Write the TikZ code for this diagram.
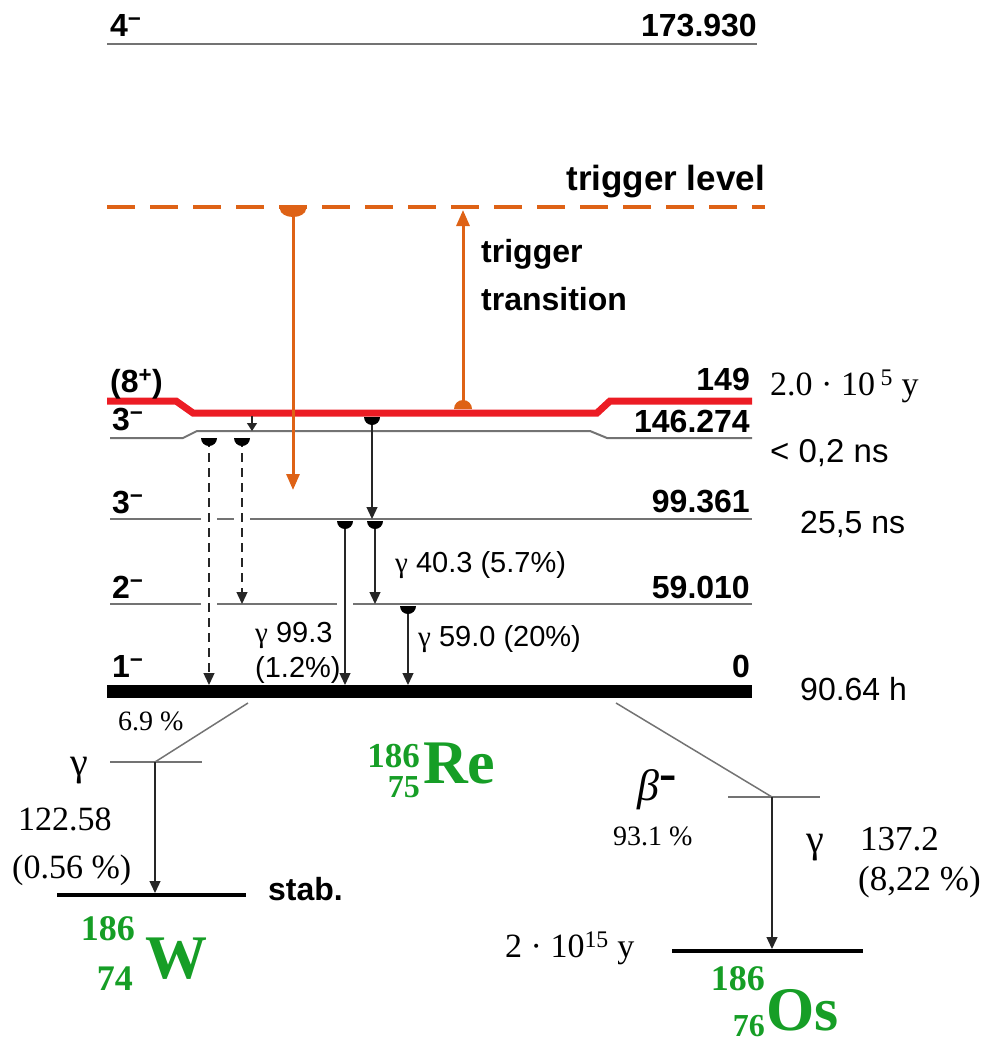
\documentclass[tikz,border=0pt]{standalone}
\usepackage{fontspec}
\setmainfont{Liberation Sans}
\newfontfamily\tms{Liberation Serif}
\usetikzlibrary{arrows.meta,positioning}
\definecolor{trigorange}{RGB}{222,98,22}
\definecolor{isored}{RGB}{236,28,36}
\definecolor{isogreen}{RGB}{22,158,38}
\definecolor{lvlgray}{RGB}{115,115,115}
\tikzset{
  lvl/.style={draw=lvlgray, line width=2pt},
  gnd/.style={draw=black, line width=13pt},
  gapline/.style={draw=white, line width=4pt},
  trans/.style={draw=black!85, line width=1.3pt, -{Triangle[length=12pt,width=11pt]}},
  dtrans/.style={trans, dash pattern=on 9pt off 6pt},
  otrans/.style={draw=trigorange, line width=3pt, -{Triangle[length=16pt,width=13pt]}},
  lbl/.style={inner sep=0pt, font=\fontsize{32}{32}\selectfont\bfseries},
  rlbl/.style={inner sep=0pt, font=\fontsize{32}{32}\selectfont},
  tlbl/.style={inner sep=0pt, font=\fontsize{29}{29}\selectfont},
  srf/.style={inner sep=0pt, font=\tms\fontsize{34}{34}\selectfont},
  iso/.style={inner sep=0pt, text=isogreen, font=\tms\fontsize{36}{36}\selectfont\bfseries},
  elem/.style={inner sep=0pt, text=isogreen, font=\tms\fontsize{62}{62}\selectfont\bfseries},
  hdown/.pic={\fill (-8pt,0pt) arc[start angle=180,end angle=360,radius=8pt] -- cycle;},
  hdownbig/.pic={\fill (-13pt,0pt) arc[start angle=180,end angle=360,x radius=13pt,y radius=8pt] -- cycle;},
  hup/.pic={\fill (-9pt,0pt) arc[start angle=180,end angle=0,radius=9pt] -- cycle;},
}
\begin{document}
\begin{tikzpicture}[x=1pt,y=-1pt]
\useasboundingbox (0,0) rectangle (982,1044);
% levels of 186Re
\coordinate (l4a) at (107,44);   \coordinate (l4b) at (757,44);
\coordinate (tla) at (107,207);  \coordinate (tlb) at (765,207);
\coordinate (rla) at (107,401);  \coordinate (rlb) at (752,401);
\coordinate (l146a) at (110,438); \coordinate (l146b) at (752,438);
\coordinate (l99a) at (110,519);  \coordinate (l99b) at (752,519);
\coordinate (l59a) at (110,604);  \coordinate (l59b) at (752,604);
\coordinate (l0a) at (107,691);   \coordinate (l0b) at (752,691);

\draw[lvl] (l4a) -- (l4b);
\draw[trigorange, line width=3.5pt, dash pattern=on 28pt off 15pt] (tla) -- (tlb);
\draw[isored, line width=7pt] (rla) -- (176,401) -- (193,413) -- (597,413) -- (610,401) -- (rlb);
\draw[lvl] (l146a) -- (183,438) -- (197,431) -- (590,431) -- (607,438) -- (l146b);
\draw[lvl] (l99a) -- (l99b);
\draw[lvl] (l59a) -- (l59b);
\draw[gnd] (l0a) -- (l0b);

\node[lbl, anchor=base west] (j4) at (110,36) {4\textsuperscript{−}};
\node[lbl, anchor=base east] (e4) at (757,36) {173.930};
\node[lbl, font=\fontsize{35}{35}\selectfont\bfseries, anchor=base east] (trl) at (765,190) {trigger level};
\node[lbl, anchor=base west] (j8) at (110,392) {(8\textsuperscript{+})};
\node[lbl, anchor=base east] (e149) at (750,390) {149};
\node[lbl, anchor=base west] (j146) at (112,430) {3\textsuperscript{−}};
\node[lbl, anchor=base east] (e146) at (750,432) {146.274};
\node[lbl, anchor=base west] (j99) at (112,513) {3\textsuperscript{−}};
\node[lbl, anchor=base east] (e99) at (750,512) {99.361};
\node[lbl, anchor=base west] (j59) at (112,598) {2\textsuperscript{−}};
\node[lbl, anchor=base east] (e59) at (750,598) {59.010};
\node[lbl, anchor=base west] (j0) at (112,677) {1\textsuperscript{−}};
\node[lbl, anchor=base east] (e0) at (750,677) {0};

\node[srf, anchor=base west] (t149) at (770,395) {2.0 · 10\,\textsuperscript{5} y};
\node[rlbl, font=\fontsize{33}{33}\selectfont, anchor=base west] (t146) at (770,462) {< 0,2 ns};
\node[rlbl, anchor=base west] (t99) at (800,533) {25,5 ns};
\node[rlbl, anchor=base west] (t0) at (800,700) {90.64 h};

% transitions
\coordinate (d1s) at (209,438); \coordinate (d1e) at (209,685);
\coordinate (d2s) at (242,438); \coordinate (d2e) at (242,604);
\coordinate (sms) at (252,416); \coordinate (sme) at (252,431);
\coordinate (a1s) at (372,417); \coordinate (a1e) at (372,519);
\coordinate (a2s) at (345,521); \coordinate (a2e) at (345,685);
\coordinate (a3s) at (375,521); \coordinate (a3e) at (375,604);
\coordinate (a4s) at (408,606); \coordinate (a4e) at (408,685);
\coordinate (o1s) at (293,209); \coordinate (o1e) at (293,490);
\coordinate (o2s) at (463,409); \coordinate (o2e) at (463,210);

\foreach \t/\l in {d1/l99a, d2/l99a, d1/l59a, a2/l59a}
  \draw[gapline] ([xshift=-8pt]\t s |- \l) -- ([xshift=8pt]\t s |- \l);

\draw[dtrans] (d1s) -- (d1e);
\draw[dtrans] (d2s) -- (d2e);
\draw[trans, -{Triangle[length=8pt,width=10pt]}] (sms) -- (sme);
\draw[trans] (a1s) -- (a1e);
\draw[trans] (a2s) -- (a2e);
\draw[trans] (a3s) -- (a3e);
\draw[trans] (a4s) -- (a4e);
\foreach \t in {d1s,d2s,a1s,a2s,a3s,a4s} \pic[black] at (\t) {hdown};

\draw[otrans] (o1s) -- (o1e);
\draw[otrans] (o2s) -- (o2e);
\pic[trigorange] at (o1s) {hdownbig};
\pic[trigorange] at (o2s) {hup};

\node[lbl, anchor=base west] (trg1) at (481,262) {trigger};
\node[lbl, anchor=base west] (trg2) at (481,310) {transition};

\node[tlbl, anchor=base west] (g40) at (395,572) {{\tms γ} 40.3 (5.7\%)};
\node[tlbl, anchor=base west] (g99) at (255,642) {{\tms γ} 99.3};
\node[tlbl, anchor=base west] (g99b) at (255,677) {(1.2\%)};
\node[tlbl, anchor=base west] (g59) at (418,646) {{\tms γ} 59.0 (20\%)};

% decay to 186W
\coordinate (wbr) at (248,703); \coordinate (wx) at (155,762);
\coordinate (wxa) at (110,762); \coordinate (wxb) at (202,762);
\coordinate (wga) at (57,895);  \coordinate (wgb) at (246,895);
\coordinate (wge) at (155,893);
\draw[lvl, line width=1.5pt] (wbr) -- (wx);
\draw[lvl, line width=1.5pt] (wxa) -- (wxb);
\draw[black, line width=4pt] (wga) -- (wgb);
\draw[trans] (wx) -- (wge);

\node[srf, font=\tms\fontsize{28}{28}\selectfont, anchor=base west] (pw) at (118,730) {6.9 \%};
\node[srf, font=\tms\fontsize{40}{40}\selectfont, anchor=base west] (gw) at (70,775) {γ};
\node[srf, anchor=base west] (ew) at (18,830) {122.58};
\node[srf, anchor=base west] (iw) at (12,878) {(0.56 \%)};
\node[lbl, anchor=base west] (stab) at (268,900) {stab.};
\node[iso, anchor=base east] (aw) at (135,940) {186};
\node[iso, anchor=base east] (zw) at (133,990) {74};
\node[elem, anchor=base west] (nw) at (145,978) {W};

% 186Re
\node[iso, font=\tms\fontsize{35}{35}\selectfont\bfseries, anchor=base east] (are) at (420,767) {186};
\node[iso, font=\tms\fontsize{32}{32}\selectfont\bfseries, anchor=base east] (zre) at (420,797) {75};
\node[elem, anchor=base west] (nre) at (423,783) {Re};

% decay to 186Os
\coordinate (obr) at (616,703); \coordinate (ox) at (772,797);
\coordinate (oxa) at (728,797); \coordinate (oxb) at (820,797);
\coordinate (oga) at (672,951); \coordinate (ogb) at (863,951);
\coordinate (oge) at (772,949);
\draw[lvl, line width=1.5pt] (obr) -- (ox);
\draw[lvl, line width=1.5pt] (oxa) -- (oxb);
\draw[black, line width=4pt] (oga) -- (ogb);
\draw[trans] (ox) -- (oge);

\node[srf, font=\tms\fontsize{44}{44}\selectfont, anchor=base west] (bo) at (637,800) {\itshape β\textsuperscript{\upshape\bfseries\fontsize{52}{52}\selectfont -}};
\node[srf, font=\tms\fontsize{28}{28}\selectfont, anchor=base west] (po) at (613,845) {93.1 \%};
\node[srf, font=\tms\fontsize{40}{40}\selectfont, anchor=base west] (go) at (806,852) {γ};
\node[srf, font=\tms\fontsize{35}{35}\selectfont, anchor=base west] (eo) at (860,850) {137.2};
\node[srf, font=\tms\fontsize{35}{35}\selectfont, anchor=base west] (io) at (858,890) {(8,22 \%)};
\node[srf, anchor=base west] (to) at (505,957) {2 · 10\textsuperscript{15} y};
\node[iso, anchor=base east] (ao) at (765,990) {186};
\node[iso, font=\tms\fontsize{32}{32}\selectfont\bfseries, anchor=base east] (zo) at (765,1036) {76};
\node[elem, anchor=base west] (no) at (766,1030) {Os};
\end{tikzpicture}
\end{document}
